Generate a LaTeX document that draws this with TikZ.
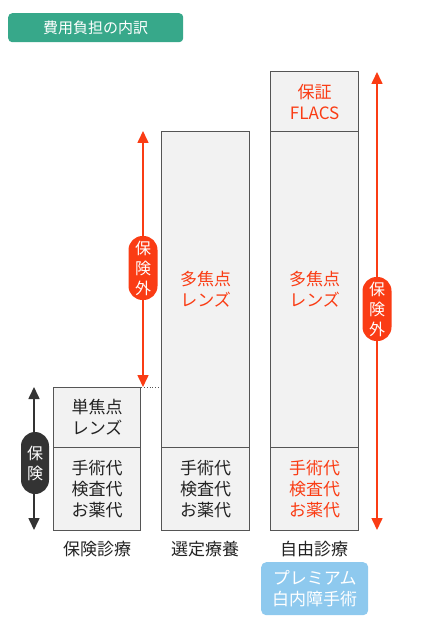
\documentclass[tikz,border=0pt]{standalone}
\usepackage{fontspec}
\setmainfont{Noto Sans CJK JP}
\usetikzlibrary{arrows.meta}
\definecolor{cellfill}{HTML}{F2F2F2}
\definecolor{cellline}{HTML}{555555}
\definecolor{accent}{HTML}{FA3C14}
\definecolor{titlegreen}{HTML}{37A88A}
\definecolor{pillblack}{HTML}{333333}
\definecolor{premblue}{HTML}{8EC9EE}
\definecolor{txt}{HTML}{222222}
\tikzset{
  cell/.style={draw=cellline, line width=1.2pt, fill=cellfill, anchor=north west, inner sep=0pt, align=center, text=txt, font=\fontsize{17}{21}\selectfont},
  redtext/.style={text=accent},
  collabel/.style={text=txt, font=\fontsize{17}{20}\selectfont},
  redarrow/.style={draw=accent, line width=1.6pt, {Triangle[width=11pt,length=12pt]}-{Triangle[width=11pt,length=12pt]}, accent},
  blackarrow/.style={draw=pillblack, line width=1.6pt, {Triangle[width=11pt,length=12pt]}-{Triangle[width=11pt,length=12pt]}, pillblack},
  pill/.style={rounded corners=14pt, minimum width=29pt, inner sep=0pt, text=white, align=center, font=\fontsize{16}{20}\selectfont},
}
\begin{document}
\begin{tikzpicture}[x=1pt,y=-1pt]
\useasboundingbox (0,0) rectangle (420,620);
% title
\node[fill=titlegreen, rounded corners=4pt, minimum width=175pt, minimum height=29pt, inner sep=0pt, text=white, font=\fontsize{15}{17}\selectfont, anchor=north west] (title) at (8,13) {費用負担の内訳};
% column 1
\node[cell, minimum width=87pt, minimum height=60pt] (c1a) at (53,387) {単焦点\\レンズ};
\node[cell, minimum width=87pt, minimum height=83pt] (c1b) at (53,447) {手術代\\検査代\\お薬代};
% column 2
\node[cell, minimum width=88pt, minimum height=316pt, redtext] (c2a) at (161,131) {多焦点\\レンズ};
\node[cell, minimum width=88pt, minimum height=83pt] (c2b) at (161,447) {手術代\\検査代\\お薬代};
% column 3
\node[cell, minimum width=88pt, minimum height=60pt, redtext] (c3a) at (270,71) {保証\\FLACS};
\node[cell, minimum width=88pt, minimum height=316pt, redtext] (c3b) at (270,131) {多焦点\\レンズ};
\node[cell, minimum width=88pt, minimum height=83pt, redtext] (c3c) at (270,447) {手術代\\検査代\\お薬代};
% labels
\node[collabel] (l1) at (97,549) {保険診療};
\node[collabel] (l2) at (205,549) {選定療養};
\node[collabel] (l3) at (314,549) {自由診療};
\node[fill=premblue, rounded corners=5pt, minimum width=107pt, minimum height=53pt, inner sep=0pt, text=white, align=center, font=\fontsize{17}{21}\selectfont, anchor=north west] (prem) at (261,562) {プレミアム\\白内障手術};
% dotted line
\draw[cellline, line width=0.8pt, dotted] (c1a.north east) -- (c1a.north east -| c2a.west);
% arrows
\coordinate (a1t) at (143,131);
\coordinate (a1b) at (143,387);
\draw[redarrow] (a1b) -- (a1t);
\node[pill, fill=accent, minimum height=64pt] (p1) at (143,268) {保\\険\\外};
\coordinate (a2t) at (377,72);
\coordinate (a2b) at (377,530);
\draw[redarrow] (a2b) -- (a2t);
\node[pill, fill=accent, minimum height=64pt] (p2) at (377,309) {保\\険\\外};
\coordinate (a3t) at (34,387);
\coordinate (a3b) at (34,530);
\draw[blackarrow] (a3b) -- (a3t);
\node[pill, fill=pillblack, minimum height=62pt, minimum width=28pt] (p3) at (35,463) {保\\険};
\end{tikzpicture}
\end{document}
